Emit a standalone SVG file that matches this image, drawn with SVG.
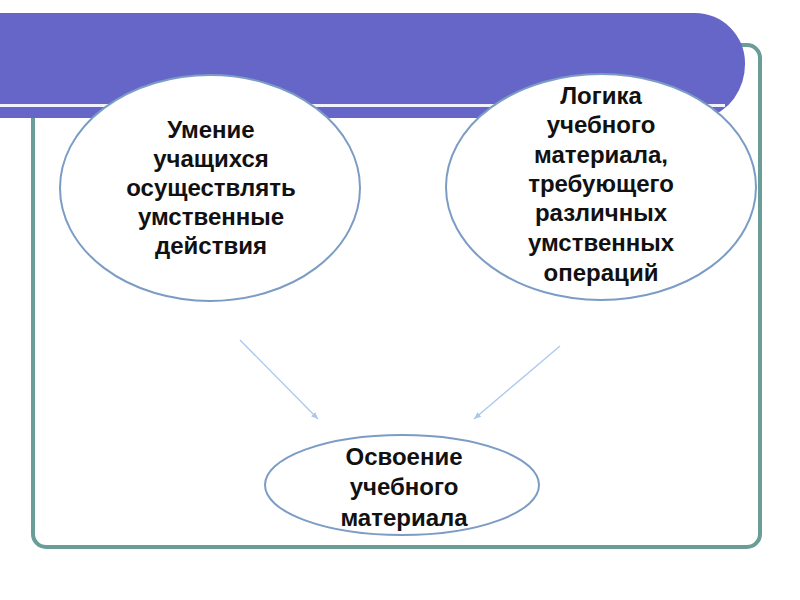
<svg xmlns="http://www.w3.org/2000/svg" width="800" height="600" viewBox="0 0 800 600">
<defs>
<style>
.node ellipse{fill:#ffffff;stroke:#7b9cc4;stroke-width:2}
.t{font-family:"Liberation Sans",Arial,sans-serif;font-weight:bold;font-size:24px;fill:#111;text-anchor:middle}
.conn line{stroke:#a8c8ee;stroke-width:1.3;fill:none}
</style>
<marker id="ah" markerWidth="8" markerHeight="8" refX="7" refY="4" orient="auto" markerUnits="userSpaceOnUse">
<path d="M0,1 L7,4 L0,7 z" fill="#a8c8ee"/>
</marker>
</defs>
<rect width="800" height="600" fill="#ffffff"/>
<rect x="33" y="45" width="727" height="502" rx="13" fill="none" stroke="#6a9c98" stroke-width="4"/>
<path d="M0,13 H695 A50,50 0 0 1 745,63 A50,55 0 0 1 705,118 H0 Z" fill="#6666c8"/>
<rect x="0" y="104" width="725" height="3" fill="#f2f2fc"/>
<g class="conn">
<line x1="240" y1="340" x2="318" y2="419" marker-end="url(#ah)"/>
<line x1="560" y1="346" x2="474" y2="419" marker-end="url(#ah)"/>
</g>
<g id="n1" class="node">
<ellipse cx="210" cy="188" rx="150" ry="113"/>
<text class="t"><tspan x="211" y="138">Умение</tspan><tspan x="211" y="167">учащихся</tspan><tspan x="211" y="196">осуществлять</tspan><tspan x="211" y="225">умственные</tspan><tspan x="211" y="254">действия</tspan></text>
</g>
<g id="n2" class="node">
<ellipse cx="601" cy="187" rx="155" ry="113"/>
<text class="t"><tspan x="601" y="104">Логика</tspan><tspan x="601" y="133">учебного</tspan><tspan x="601" y="163">материала,</tspan><tspan x="601" y="192">требующего</tspan><tspan x="601" y="221">различных</tspan><tspan x="601" y="251">умственных</tspan><tspan x="601" y="281">операций</tspan></text>
</g>
<g id="n3" class="node">
<ellipse cx="402" cy="485" rx="137" ry="50"/>
<text class="t"><tspan x="404" y="465">Освоение</tspan><tspan x="404" y="495">учебного</tspan><tspan x="404" y="526">материала</tspan></text>
</g>
</svg>
